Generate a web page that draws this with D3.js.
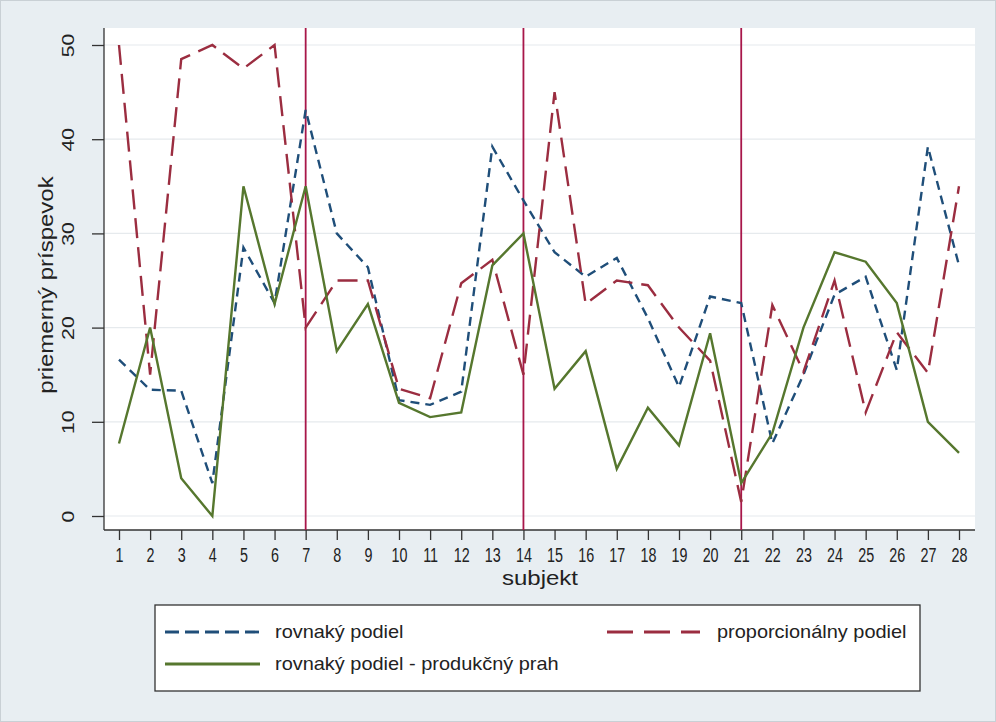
<!DOCTYPE html>
<html><head><meta charset="utf-8">
<script src="https://cdn.jsdelivr.net/npm/d3@7"></script>
<style>body{margin:0;background:#e8eef2;}svg{display:block;}</style>
</head><body>
<svg id="c" width="996" height="722"></svg>
<script>
const subjects = d3.range(1, 29);
const rovnaky = [16.6,13.4,13.3,3.5,28.5,22.6,43.1,30,26.4,12.3,11.8,13.2,39.2,33.5,28,25.4,27.4,21,13.7,23.3,22.6,7.7,15,23.5,25.4,15.5,39.2,26.6];
const proporcionalny = [50,15,48.5,50,47.5,50,20,25,25,13.5,12.5,24.7,27.2,15,45,22.5,25,24.5,20,16.5,1.5,22.4,15.3,25,11,19.5,15.2,35];
const prah = [7.7,20,4,0,35,22.5,35,17.5,22.5,12,10.5,11,26.6,30,13.5,17.5,5,11.5,7.5,19.4,3.5,8.8,20,28,27,22.6,10,6.7];
const yTicks = [0,10,20,30,40,50];
const vlines = [7,14,21];
const seriesNames = ["rovnaký podiel","proporcionálny podiel","rovnaký podiel - produkčný prah"];

const svg = d3.select("#c");
const font = "'Liberation Sans',Arial,sans-serif";
svg.append("rect").attr("x",0.5).attr("y",0.5).attr("width",995).attr("height",721)
  .attr("fill","#e8eef2").attr("stroke","#c9d0d5");
const L=104, R=975, T=28, B=530;
svg.append("rect").attr("x",L).attr("y",T).attr("width",R-L).attr("height",B-T).attr("fill","#fff");

const x = d3.scaleLinear().domain([1,28]).range([119,959]);
const y = d3.scaleLinear().domain([0,50]).range([516,45]);

// grid
svg.append("g").selectAll("line").data(yTicks).join("line")
  .attr("x1",L).attr("x2",R).attr("y1",d=>y(d)).attr("y2",d=>y(d))
  .attr("stroke","#e6eaed").attr("stroke-width",1.2);

// axes
const yAx = svg.append("g").attr("transform",`translate(${L},0)`)
  .call(d3.axisLeft(y).tickValues(yTicks).tickSize(12).tickPadding(8));
yAx.select(".domain").attr("d",`M0,${T}V${B}`).attr("stroke","#333").attr("stroke-width",1.3);
yAx.selectAll(".tick line").attr("stroke","#333").attr("stroke-width",1.3);
yAx.selectAll(".tick text").attr("font-family",font).attr("font-size",17).attr("fill","#222")
  .attr("transform","translate(-36,0) rotate(-90) scale(1.25,1)")
  .attr("x",0).attr("dy","0.35em").attr("text-anchor","middle");

const xAx = svg.append("g").attr("transform",`translate(0,${B})`)
  .call(d3.axisBottom(x).tickValues(subjects).tickFormat(d3.format("d")).tickSize(10).tickPadding(7));
xAx.select(".domain").attr("d",`M${L},0H${R}`).attr("stroke","#333").attr("stroke-width",1.3);
xAx.selectAll(".tick line").attr("stroke","#333").attr("stroke-width",1.3);
xAx.selectAll(".tick text").attr("font-family",font).attr("font-size",20.5).attr("fill","#222")
  .attr("transform","scale(0.7,1)");

svg.append("text").attr("transform","translate(540,585) scale(1.2,1)").attr("text-anchor","middle")
  .attr("font-family",font).attr("font-size",20).attr("fill","#222").text("subjekt");
svg.append("text").attr("transform","translate(53,285) rotate(-90) scale(1.2,1)").attr("text-anchor","middle")
  .attr("font-family",font).attr("font-size",20).attr("fill","#222").text("priemerný príspevok");

// vertical lines
svg.append("g").selectAll("line").data(vlines).join("line")
  .attr("x1",d=>x(d)).attr("x2",d=>x(d)).attr("y1",T).attr("y2",B)
  .attr("stroke","#a8174a").attr("stroke-width",1.8);

const line = d3.line().x((d,i)=>x(subjects[i])).y(d=>y(d));
const styles = [
  {data:rovnaky,color:"#1f4e79",dash:"9,6",ldash:"14,6"},
  {data:proporcionalny,color:"#9b2d40",dash:"20,9",ldash:"26,11"},
  {data:prah,color:"#56772e",dash:null,ldash:null}
];
styles.forEach(s=>{
  svg.append("path").datum(s.data).attr("d",line).attr("fill","none")
    .attr("stroke",s.color).attr("stroke-width",2.4).attr("stroke-linejoin","miter")
    .attr("stroke-dasharray",s.dash);
});

// legend
const lg = svg.append("g");
lg.append("rect").attr("x",155).attr("y",605).attr("width",765).attr("height",86)
  .attr("fill","#fff").attr("stroke","#333").attr("stroke-width",1.3);
const legPos = [{lx:165,w:95,ly:632,tx:275},{lx:607,w:93,ly:632,tx:717},{lx:165,w:95,ly:664,tx:275}];
styles.forEach((s,i)=>{
  const p = legPos[i];
  lg.append("line").attr("x1",p.lx).attr("x2",p.lx+p.w).attr("y1",p.ly).attr("y2",p.ly)
    .attr("stroke",s.color).attr("stroke-width",2.8).attr("stroke-dasharray",s.ldash);
  lg.append("text").attr("transform",`translate(${p.tx},${p.ly}) scale(1.14,1)`).attr("dy","0.35em")
    .attr("font-family",font).attr("font-size",17.5).attr("fill","#222").text(seriesNames[i]);
});
</script>
</body></html>
